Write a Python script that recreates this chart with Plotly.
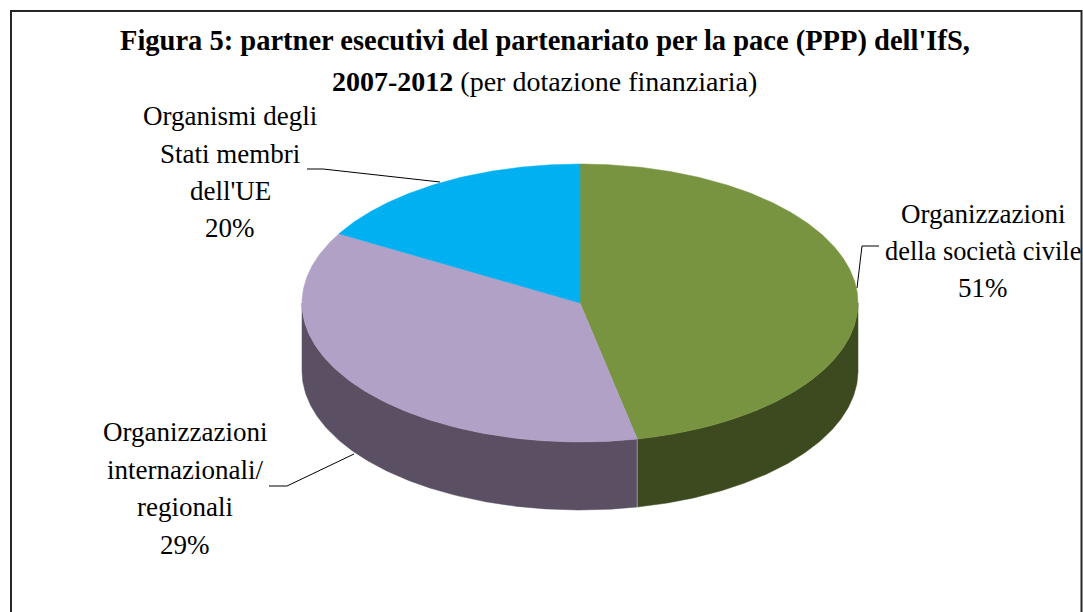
import numpy as np
import plotly.graph_objects as go

# Data
categories = ["Organizzazioni della società civile", "Organizzazioni internazionali/regionali", "Organismi degli Stati membri dell'UE"]
label_percent = ["51%", "29%", "20%"]
# Shares as actually drawn in the picture
drawn_shares = [46.7, 36.6, 16.7]
top_colors = ["#789440", "#B2A1C7", "#00B0F0"]
side_colors = ["#3D4A1F", "#5B5063", "#006F97"]

# Layout of the projected pie, in page pixels
W, H = 1083, 612
CX, CY, RX, RY, DEPTH = 580, 303, 278, 139, 68
SERIF = "Liberation Serif"


def rim(a0, a1, dy=0.0):
    n = max(2, int(abs(a1 - a0) * 2) + 2)
    t = np.radians(np.linspace(a0, a1, n))
    return CX + RX * np.sin(t), CY + dy - RY * np.cos(t)


fig = go.Figure()
angles = np.concatenate([[0], np.cumsum(drawn_shares)]) / sum(drawn_shares) * 360

# Side walls: only the front half of the rim (90 to 270 degrees) is visible
seams = []
for i in range(len(categories)):
    a0, a1 = max(angles[i], 90), min(angles[i + 1], 270)
    if a1 <= a0:
        continue
    xt, yt = rim(a0, a1)
    xb, yb = rim(a1, a0, DEPTH)
    fig.add_trace(go.Scatter(x=np.r_[xt, xb, xt[0]], y=np.r_[yt, yb, yt[0]], mode="lines",
                             fill="toself", fillcolor=side_colors[i],
                             line=dict(color=side_colors[i], width=0.5), hoverinfo="skip"))
    if 90 < angles[i + 1] < 270:
        seams.append(angles[i + 1])
for a in seams:
    xs, ys = rim(a, a)
    xe, ye = rim(a, a, DEPTH)
    fig.add_trace(go.Scatter(x=[xs[0], xe[0]], y=[ys[0], ye[0]], mode="lines",
                             line=dict(color="#9C90AA", width=1), hoverinfo="skip"))

# Top faces
for i in range(len(categories)):
    xr, yr = rim(angles[i], angles[i + 1])
    fig.add_trace(go.Scatter(x=np.r_[CX, xr, CX], y=np.r_[CY, yr, CY], mode="lines",
                             fill="toself", fillcolor=top_colors[i],
                             line=dict(color=top_colors[i], width=0.5),
                             name=categories[i], hoverinfo="name"))

# Leader lines
leaders = [
    ([879, 862, 857], [246, 246, 288]),
    ([269, 287, 354], [486, 486, 454]),
    ([307, 323, 440], [169, 169, 182]),
]
for lx, ly in leaders:
    fig.add_trace(go.Scatter(x=lx, y=ly, mode="lines", line=dict(color="#000000", width=1), hoverinfo="skip"))

ann = []


def text(x, y, s, size=27):
    ann.append(dict(x=x, y=y, text=s, showarrow=False, xanchor="center", yanchor="middle",
                    font=dict(family=SERIF, size=size, color="#000000")))


text(545, 41, "<b>Figura 5: partner esecutivi del partenariato per la pace (PPP) dell'IfS,</b>", 28.5)
text(544, 81, "<b>2007-2012</b> (per dotazione finanziaria)", 28)
for (x, ys, lines, sizes) in [
    (983, [214, 251, 288], ["Organizzazioni", "della società civile", label_percent[0]], [27, 26.4, 27]),
    (185, [432, 470, 507, 545], ["Organizzazioni", "internazionali/", "regionali", label_percent[1]], [27, 27, 27, 27]),
    (230, [116, 154, 191, 228], ["Organismi degli", "Stati membri", "dell'UE", label_percent[2]], [27, 27, 27, 27]),
]:
    for y, s, z in zip(ys, lines, sizes):
        text(x, y, s, z)

FRAME = dict(color="#262626", width=2)
fig.update_layout(
    width=W, height=H, margin=dict(l=0, r=0, t=0, b=0),
    paper_bgcolor="#FFFFFF", plot_bgcolor="#FFFFFF", showlegend=False,
    xaxis=dict(range=[0, W], visible=False, fixedrange=True),
    yaxis=dict(range=[H, 0], visible=False, fixedrange=True),
    annotations=ann,
    shapes=[
        dict(type="line", x0=10, x1=1082, y0=11, y1=11, line=FRAME),
        dict(type="line", x0=11, x1=11, y0=10, y1=612, line=FRAME),
        dict(type="line", x0=1081.5, x1=1081.5, y0=10, y1=612, line=FRAME),
    ],
)
fig.write_html("out.html", config={"displayModeBar": False},
               post_script="document.body.style.margin='0';document.body.style.overflow='hidden';")
